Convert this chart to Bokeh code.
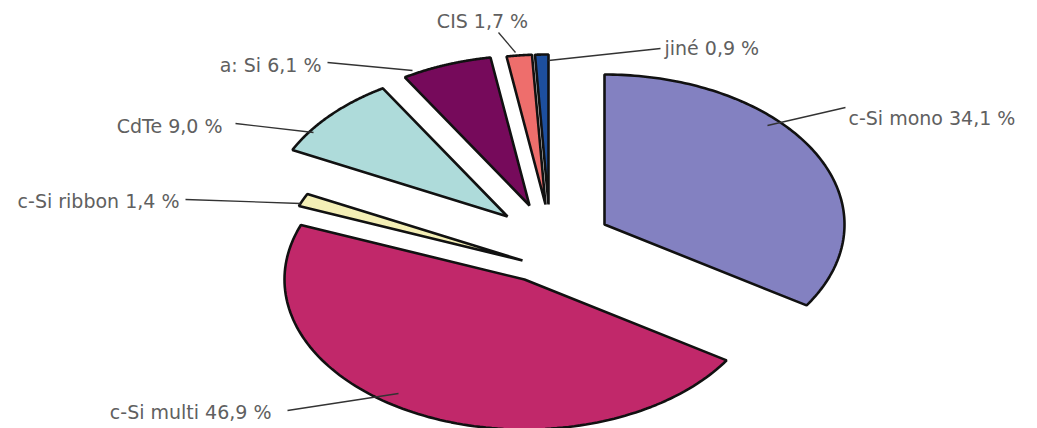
import numpy as np
from bokeh.plotting import figure
from bokeh.models import Range1d, ColumnDataSource
from bokeh.embed import file_html
from bokeh.resources import INLINE
from bokeh.core.properties import value

# ---------------- data ----------------
categories = ["c-Si mono", "c-Si multi", "c-Si ribbon", "CdTe", "a: Si", "CIS", "jiné"]
shares = [34.1, 46.9, 1.4, 9.0, 6.1, 1.7, 0.9]
labels = ["c-Si mono 34,1 %", "c-Si multi 46,9 %", "c-Si ribbon 1,4 %",
          "CdTe 9,0 %", "a: Si 6,1 %", "CIS 1,7 %", "jiné 0,9 %"]
colors = ["#8381C1", "#C1286A", "#F4EFB6", "#AEDBDA", "#760A5B", "#EE6E6C", "#1D4F9E"]

# ---------------- layout / style (window pixels, y downwards) ----------------
W, H = 1037, 428
CX, CY = 556, 240          # pie centre
RX, RY = 240, 150          # ellipse radii
explode = [(48, -16), (-32, 39), (-34, 20), (-49, -24), (-27, -35), (-11, -36), (-8, -36)]
label_pos = [(848, 117, "left"), (271, 411, "right"), (179, 200, "right"),
             (222, 125, "right"), (321, 64, "right"), (482, 20, "center"), (664, 47, "left")]
leaders = [((767, 125), (845, 107)), ((287, 410), (398, 393)), ((185, 199), (300, 203)),
           ((235, 123), (313, 132)), ((327, 62), (412, 70)), ((498, 32), (515, 52)),
           ((548, 60), (660, 48))]


def px(x):
    return x - CX


def py(y):
    return CY - y


p = figure(width=W, height=H, output_backend="svg", toolbar_location=None,
           x_range=Range1d(px(0), px(W)), y_range=Range1d(py(H), py(0)),
           min_border=0)
p.axis.visible = False
p.grid.visible = False
p.outline_line_color = None
p.background_fill_color = "white"
p.border_fill_color = "white"

total = sum(shares)
fr = np.cumsum([0] + shares) / total * 2 * np.pi
xs, ys = [], []
for i, s in enumerate(shares):
    ax, ay = explode[i][0], -explode[i][1]
    th = np.linspace(fr[i], fr[i + 1], 120)
    x = np.concatenate([[ax], ax + RX * np.sin(th), [ax]])
    y = np.concatenate([[ay], ay + RY * np.cos(th), [ay]])
    xs.append(list(x))
    ys.append(list(y))

src = ColumnDataSource(dict(xs=xs, ys=ys, color=colors, cat=categories))
p.patches("xs", "ys", source=src, fill_color="color", line_color="#111111",
          line_width=2.6)

# leader lines
p.segment(x0=[px(a[0]) for a, b in leaders], y0=[py(a[1]) for a, b in leaders],
          x1=[px(b[0]) for a, b in leaders], y1=[py(b[1]) for a, b in leaders],
          line_color="#333333", line_width=1.3)

# labels
for (lx, ly, al), t in zip(label_pos, labels):
    p.text(x=[px(lx)], y=[py(ly)], text=[t], text_align=al, text_baseline="middle",
           text_font=value("DejaVu Sans"), text_font_size="19px", text_color="#606060")

open("out.html", "w").write(file_html(p, INLINE))
